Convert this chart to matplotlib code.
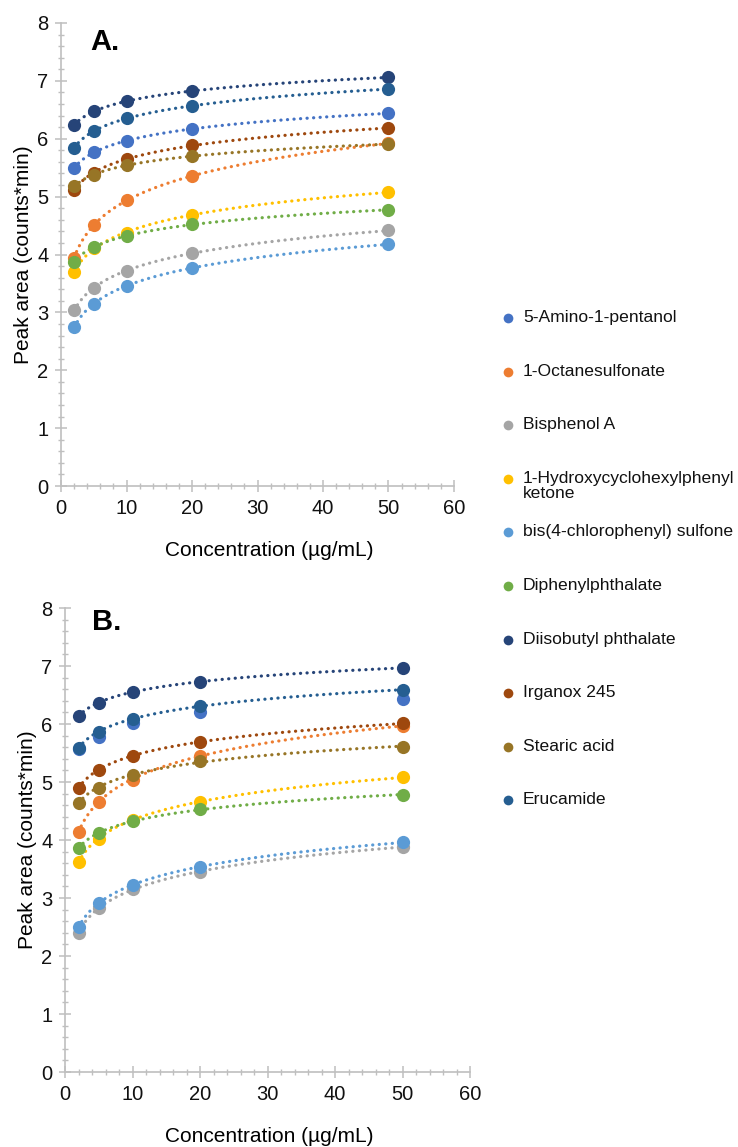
import numpy as np
import matplotlib
matplotlib.use("Agg")
import matplotlib.pyplot as plt
from matplotlib.ticker import MultipleLocator

plt.rcParams['font.family'] = ['Liberation Sans', 'DejaVu Sans']

conc = [2, 5, 10, 20, 50]

names = ["5-Amino-1-pentanol", "1-Octanesulfonate", "Bisphenol A",
         "1-Hydroxycyclohexylphenyl\nketone", "bis(4-chlorophenyl) sulfone",
         "Diphenylphthalate", "Diisobutyl phthalate", "Irganox 245",
         "Stearic acid", "Erucamide"]
colors = ["#4472C4", "#ED7D31", "#A5A5A5", "#FFC000", "#5B9BD5",
          "#70AD47", "#264478", "#9E480E", "#977526", "#255E91"]

# Panel A
a_amino = [5.49, 5.77, 5.96, 6.17, 6.44]
a_octane = [3.94, 4.51, 4.94, 5.35, 5.92]
a_bpa = [3.04, 3.42, 3.71, 4.02, 4.42]
a_hydroxy = [3.70, 4.11, 4.37, 4.68, 5.08]
a_bis = [2.75, 3.14, 3.45, 3.77, 4.18]
a_diphenyl = [3.87, 4.13, 4.32, 4.52, 4.77]
a_diisobutyl = [6.23, 6.48, 6.65, 6.82, 7.06]
a_irganox = [5.11, 5.41, 5.65, 5.89, 6.18]
a_stearic = [5.18, 5.37, 5.54, 5.70, 5.91]
a_erucamide = [5.84, 6.13, 6.36, 6.56, 6.86]

# Panel B
b_amino = [5.57, 5.78, 6.02, 6.21, 6.43]
b_octane = [4.14, 4.66, 5.04, 5.45, 5.97]
b_bpa = [2.40, 2.83, 3.15, 3.45, 3.88]
b_hydroxy = [3.62, 4.02, 4.35, 4.66, 5.08]
b_bis = [2.50, 2.91, 3.22, 3.54, 3.96]
b_diphenyl = [3.86, 4.12, 4.32, 4.53, 4.78]
b_diisobutyl = [6.14, 6.36, 6.55, 6.73, 6.97]
b_irganox = [4.90, 5.21, 5.45, 5.69, 6.01]
b_stearic = [4.64, 4.90, 5.12, 5.36, 5.61]
b_erucamide = [5.59, 5.86, 6.09, 6.31, 6.59]

panel_a = [a_amino, a_octane, a_bpa, a_hydroxy, a_bis, a_diphenyl,
           a_diisobutyl, a_irganox, a_stearic, a_erucamide]
panel_b = [b_amino, b_octane, b_bpa, b_hydroxy, b_bis, b_diphenyl,
           b_diisobutyl, b_irganox, b_stearic, b_erucamide]
trend_a = [True] * 10
trend_b = [False] + [True] * 9

W, H = 738, 1147
fig = plt.figure(figsize=(W / 100, H / 100), dpi=100)

def fx(px):
    return px / W

def fy(py):
    return 1 - py / H

axA = fig.add_axes([fx(61), fy(486), fx(454 - 61), (486 - 23) / H])
axB = fig.add_axes([fx(65), fy(1072), fx(470 - 65), (1072 - 608) / H])

gray = "#BFBFBF"
for ax, data, trend, xlx in [(axA, panel_a, trend_a, 0.529), (axB, panel_b, trend_b, 0.504)]:
    x = np.array(conc, dtype=float)
    xx = np.linspace(x.min(), x.max(), 300)
    for vals, c, t in zip(data, colors, trend):
        if t:
            k, b = np.polyfit(np.log(x), np.array(vals), 1)
            ax.plot(xx, k * np.log(xx) + b, color=c, lw=2.3,
                    linestyle=(0, (0.05, 2.0)), dash_capstyle='round',
                    solid_capstyle='round', zorder=2)
    for vals, c in zip(data, colors):
        ax.plot(x, vals, 'o', color=c, ms=9.5, mec='none', zorder=3)
    ax.set_xlim(0, 60)
    ax.set_ylim(0, 8)
    ax.xaxis.set_major_locator(MultipleLocator(10))
    ax.xaxis.set_minor_locator(MultipleLocator(2))
    ax.yaxis.set_major_locator(MultipleLocator(1))
    ax.yaxis.set_minor_locator(MultipleLocator(0.2))
    for s in ['top', 'right']:
        ax.spines[s].set_visible(False)
    for s in ['left', 'bottom']:
        ax.spines[s].set_color(gray)
        ax.spines[s].set_linewidth(1.2)
    ax.tick_params(which='major', direction='inout', length=8, width=1.1,
                   color=gray, labelsize=14.5, labelcolor='#111111', pad=5)
    ax.tick_params(which='minor', direction='inout', length=5, width=1.0, color=gray)
    ax.set_xlabel("Concentration (µg/mL)", fontsize=15, labelpad=17, x=xlx)
    ax.set_ylabel("Peak area (counts*min)", fontsize=15, labelpad=3)
    ax.patch.set_alpha(0)

axA.text(29 / 393, (486 - 42) / 463, "A.", transform=axA.transAxes,
         fontsize=21, fontweight='bold', va='center', ha='left')
axB.text(27 / 405, (1072 - 622) / 464, "B.", transform=axB.transAxes,
         fontsize=21, fontweight='bold', va='center', ha='left')

# Legend (figure level)
leg_y0 = 318
leg_dy = 53.6
for i, (n, c) in enumerate(zip(names, colors)):
    y = leg_y0 + i * leg_dy
    fig.lines.append(plt.Line2D([fx(508)], [fy(y)], marker='o', ms=7, color=c,
                                mec='none', transform=fig.transFigure))
    fig.text(fx(523), fy(y - 8), n, fontsize=12.6, va='top', ha='left',
             color='#111111', linespacing=0.98)

fig.savefig("out.png", dpi=100)
